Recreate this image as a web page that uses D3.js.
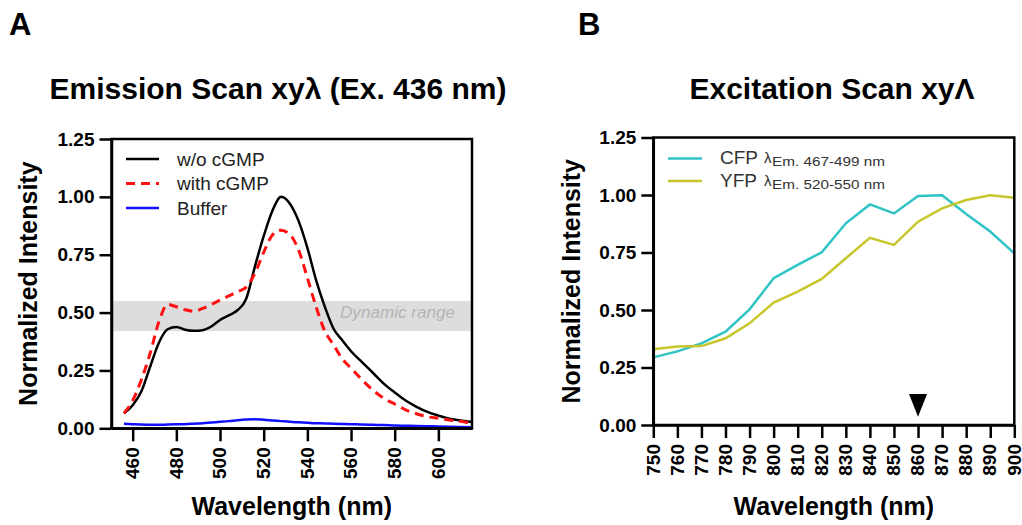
<!DOCTYPE html>
<html>
<head>
<meta charset="utf-8">
<script src="https://cdn.jsdelivr.net/npm/d3@7"></script>
<style>
  body { margin: 0; background: #fff; }
  text { font-family: "Liberation Sans", Arial, sans-serif; }
</style>
</head>
<body>
<script>

// panel A - emission scan
var emWavelength = [456, 460, 464, 468, 472, 476, 480, 484, 488, 492, 496, 500, 504, 508, 512, 516, 520, 524, 528, 532,
                    536, 540, 544, 548, 552, 556, 560, 565, 570, 575, 580, 585, 590, 595, 600, 605, 610, 615];
var withoutCgmp = [0.065, 0.10, 0.16, 0.266, 0.37, 0.428, 0.438, 0.426, 0.421, 0.424, 0.44, 0.468, 0.488, 0.51, 0.56, 0.70, 0.83, 0.94, 1.0, 0.97,
                   0.895, 0.78, 0.64, 0.525, 0.43, 0.38, 0.333, 0.286, 0.24, 0.193, 0.155, 0.12, 0.093, 0.071, 0.055, 0.041, 0.034, 0.028];
var withCgmp = [0.065, 0.12, 0.21, 0.324, 0.46, 0.535, 0.525, 0.512, 0.506, 0.518, 0.535, 0.554, 0.572, 0.59, 0.61, 0.67, 0.76, 0.835, 0.856, 0.837,
                0.77, 0.65, 0.525, 0.42, 0.36, 0.30, 0.26, 0.21, 0.165, 0.13, 0.105, 0.08, 0.063, 0.05, 0.043, 0.036, 0.03, 0.022];
var bufferOnly = [0.02, 0.018, 0.016, 0.015, 0.015, 0.016, 0.017, 0.018, 0.02, 0.022, 0.025, 0.028, 0.031, 0.035, 0.038, 0.039, 0.037, 0.034, 0.031, 0.028,
                  0.026, 0.024, 0.022, 0.021, 0.02, 0.019, 0.018, 0.016, 0.015, 0.014, 0.012, 0.011, 0.01, 0.009, 0.008, 0.007, 0.006, 0.005];
var emTicks = [460, 480, 500, 520, 540, 560, 580, 600];
var dynamicRange = [0.42, 0.55];
var emLegend = ["w/o cGMP", "with cGMP", "Buffer"];

// panel B - excitation scan
var exWavelength = [750, 760, 770, 780, 790, 800, 810, 820, 830, 840, 850, 860, 870, 880, 890, 900];
var cfpSignal = [0.294, 0.32, 0.355, 0.406, 0.503, 0.638, 0.696, 0.751, 0.877, 0.959, 0.92, 0.996, 0.999, 0.917, 0.841, 0.746];
var yfpSignal = [0.329, 0.341, 0.343, 0.377, 0.442, 0.532, 0.58, 0.635, 0.725, 0.814, 0.783, 0.884, 0.942, 0.978, 0.999, 0.988];
var markerWavelength = 860;

var intensityTicks = [0, 0.25, 0.5, 0.75, 1.0, 1.25];

var svg = d3.select("body").append("svg")
            .attr("width", 1022)
            .attr("height", 525);

var fmt = d3.format(".2f");

// draws box, ticks and labels for one panel
function drawAxes(x, y, xTicks, title, cx, yTitleX) {
  var g = svg.append("g");
  var x0 = x.range()[0], x1 = x.range()[1];
  var y0 = y.range()[0], y1 = y.range()[1];

  g.append("rect")
    .attr("x", x0).attr("y", y1)
    .attr("width", x1 - x0).attr("height", y0 - y1)
    .attr("fill", "none").attr("stroke", "#000").attr("stroke-width", 2.5);

  var ya = g.append("g")
    .attr("transform", "translate(" + x0 + ",0)")
    .call(d3.axisLeft(y).tickValues(intensityTicks).tickFormat(fmt).tickSize(12).tickSizeOuter(0).tickPadding(5));
  var xa = g.append("g")
    .attr("transform", "translate(0," + y0 + ")")
    .call(d3.axisBottom(x).tickValues(xTicks).tickFormat(d3.format("d")).tickSize(13).tickSizeOuter(0));

  [ya, xa].forEach(function(a) {
    a.selectAll("path, line").attr("stroke", "#000").attr("stroke-width", 2.5);
    a.selectAll("text").attr("fill", "#000").style("font-size", "19px").style("font-weight", "bold");
  });
  xa.selectAll("text")
    .attr("transform", "rotate(-90)")
    .attr("x", -19).attr("y", 0).attr("dy", "0.3em")
    .style("text-anchor", "end");

  g.append("text")
    .attr("x", cx).attr("y", 98.5)
    .attr("text-anchor", "middle")
    .style("font-size", "30px").style("font-weight", "bold")
    .text(title);

  g.append("text")
    .attr("x", (x0 + x1) / 2).attr("y", 515)
    .attr("text-anchor", "middle")
    .style("font-size", "25px").style("font-weight", "bold")
    .text("Wavelength (nm)");

  g.append("text")
    .attr("transform", "translate(" + yTitleX + "," + ((y0 + y1) / 2) + ") rotate(-90)")
    .attr("text-anchor", "middle")
    .style("font-size", "25px").style("font-weight", "bold")
    .text("Normalized Intensity");
}

// ---------- panel A ----------
var xA = d3.scaleLinear().domain([450.3, 615.4]).range([111.5, 472]);
var yA = d3.scaleLinear().domain([0, 1.25]).range([428.3, 139]);

svg.append("rect")
  .attr("x", xA.range()[0]).attr("y", yA(dynamicRange[1]))
  .attr("width", xA.range()[1] - xA.range()[0])
  .attr("height", yA(dynamicRange[0]) - yA(dynamicRange[1]))
  .attr("fill", "#dddddd");
svg.append("text")
  .attr("x", 340).attr("y", 317.5)
  .attr("textLength", 115).attr("lengthAdjust", "spacingAndGlyphs")
  .style("font-size", "16px").style("font-style", "italic")
  .attr("fill", "#b5b5b5")
  .text("Dynamic range");

var emSeries = [
  { values: withoutCgmp, color: "#000000", dash: null, width: 2.5 },
  { values: withCgmp, color: "#ff1010", dash: "9,6", width: 3 },
  { values: bufferOnly, color: "#1010ff", dash: null, width: 2.5 }
];

var lineA = d3.line()
  .x(function(d, i) { return xA(emWavelength[i]); })
  .y(function(d) { return yA(d); })
  .curve(d3.curveMonotoneX);

svg.selectAll("path.em")
  .data(emSeries)
  .enter()
  .append("path")
  .attr("class", "em")
  .attr("d", function(d) { return lineA(d.values); })
  .attr("fill", "none")
  .attr("stroke", function(d) { return d.color; })
  .attr("stroke-width", function(d) { return d.width; })
  .attr("stroke-dasharray", function(d) { return d.dash; });

drawAxes(xA, yA, emTicks, "Emission Scan xy\u03bb (Ex. 436 nm)", 278, 37);

var legA = svg.selectAll("g.legA")
  .data(emSeries)
  .enter()
  .append("g")
  .attr("transform", function(d, i) { return "translate(126," + (159 + i * 24.5) + ")"; });
legA.append("line")
  .attr("x1", 0).attr("x2", 33)
  .attr("stroke", function(d) { return d.color; })
  .attr("stroke-width", function(d) { return d.width; })
  .attr("stroke-dasharray", function(d) { return d.dash; });
legA.append("text")
  .attr("x", 51).attr("dy", "0.36em")
  .style("font-size", "19px")
  .attr("fill", "#222")
  .text(function(d, i) { return emLegend[i]; });

// ---------- panel B ----------
var xB = d3.scaleLinear().domain([750, 900]).range([653.3, 1014.3]);
var yB = d3.scaleLinear().domain([0, 1.25]).range([425, 137.5]);

var exSeries = [
  { values: cfpSignal, color: "#30c3c6", name: "CFP", sub: "Em. 467-499 nm" },
  { values: yfpSignal, color: "#c6c62a", name: "YFP", sub: "Em. 520-550 nm" }
];

var lineB = d3.line()
  .x(function(d, i) { return xB(exWavelength[i]); })
  .y(function(d) { return yB(d); });

svg.selectAll("path.ex")
  .data(exSeries)
  .enter()
  .append("path")
  .attr("class", "ex")
  .attr("d", function(d) { return lineB(d.values); })
  .attr("fill", "none")
  .attr("stroke", function(d) { return d.color; })
  .attr("stroke-width", 2.5);

drawAxes(xB, yB, exWavelength, "Excitation Scan xy\u039b", 832, 580);

// arrow marker
var mx = xB(markerWavelength);
svg.append("path")
  .attr("d", "M" + (mx - 9) + "," + yB(0.135) + "L" + (mx + 9) + "," + yB(0.135) + "L" + mx + "," + yB(0.036) + "Z")
  .attr("fill", "#000");

var legB = svg.selectAll("g.legB")
  .data(exSeries)
  .enter()
  .append("g")
  .attr("transform", function(d, i) { return "translate(668," + (158.5 + i * 22.5) + ")"; });
legB.append("line")
  .attr("x1", 0).attr("x2", 34)
  .attr("stroke", function(d) { return d.color; })
  .attr("stroke-width", 2.5);
legB.append("text")
  .attr("x", 52).attr("dy", "0.3em")
  .style("font-size", "19px")
  .attr("fill", "#333")
  .text(function(d) { return d.name; });
legB.append("text")
  .attr("x", 96).attr("dy", "0.3em")
  .style("font-size", "15px")
  .attr("fill", "#333")
  .text("\u03bb");
legB.append("text")
  .attr("x", 104).attr("dy", "0.3em").attr("y", 4)
  .attr("textLength", 113).attr("lengthAdjust", "spacingAndGlyphs")
  .style("font-size", "12.5px")
  .attr("fill", "#333")
  .text(function(d) { return d.sub; });

// panel letters
svg.append("text").attr("x", 9).attr("y", 35)
  .style("font-size", "31px").style("font-weight", "bold").text("A");
svg.append("text").attr("x", 578).attr("y", 35)
  .style("font-size", "31px").style("font-weight", "bold").text("B");

</script>
</body>
</html>
